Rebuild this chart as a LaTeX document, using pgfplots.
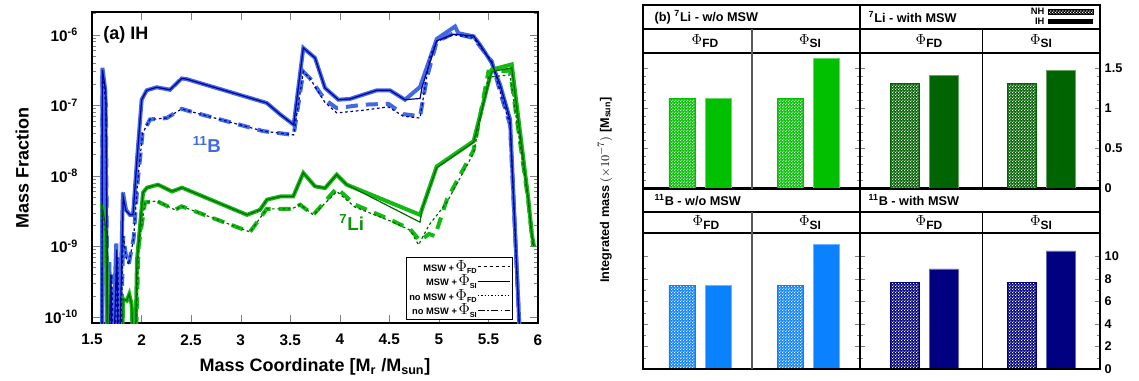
\documentclass[border=0pt]{standalone}
\usepackage{pgfplots}
\pgfplotsset{compat=1.18}
\usepackage{fontspec}
\setmainfont{Liberation Sans}
\usetikzlibrary{patterns}
\definecolor{bl}{RGB}{65,105,225}
\definecolor{nv}{RGB}{0,0,160}
\definecolor{gr}{RGB}{20,185,20}
\definecolor{dg}{RGB}{0,105,0}
\definecolor{liA}{RGB}{0,192,0}
\definecolor{liB}{RGB}{0,100,0}
\definecolor{bA}{RGB}{10,130,255}
\definecolor{bB}{RGB}{0,0,128}
\definecolor{litxt}{RGB}{10,150,10}
\pgfdeclarepatternformonly{fchk}{\pgfpointorigin}{\pgfqpoint{2.4pt}{2.4pt}}{\pgfqpoint{2.4pt}{2.4pt}}{%
 \pgfpathrectangle{\pgfpointorigin}{\pgfqpoint{0.95pt}{0.95pt}}%
 \pgfpathrectangle{\pgfqpoint{1.2pt}{1.2pt}}{\pgfqpoint{0.95pt}{0.95pt}}%
 \pgfusepath{fill}}
\newcommand\lgd[2]{{\fontsize{7}{7}\selectfont\bfseries #1}\,{\fontsize{12.5}{12.5}\selectfont$\Phi$}\raisebox{-0.5ex}{\fontsize{5.5}{5.5}\selectfont\bfseries #2}}
\newcommand\phx[1]{{\fontsize{11}{11}\selectfont$\Phi$}\raisebox{-0.5ex}{\fontsize{9}{9}\selectfont\bfseries #1}}

\pgfplotstableread{
x y
1.600 1e-11
1.605 3.4e-7
1.635 1.6e-7
1.655 1e-11
1.675 6e-10
1.695 1e-11
1.745 1.1e-9
1.765 1e-11
1.812 5.8e-9
1.843 3.3e-9
1.883 2.8e-9
1.914 2.8e-9
1.954 1.7e-8
2.001 1.2e-7
2.052 1.63e-7
2.153 1.8e-7
2.287 1.66e-7
2.405 2.4e-7
2.455 2.35e-7
3.263 1.08e-7
3.400 7.4e-8
3.535 5.3e-8
3.632 6.5e-7
3.750 4.7e-7
3.851 1.76e-7
3.986 1.2e-7
4.103 1.23e-7
4.373 1.63e-7
4.507 1.63e-7
4.658 1.2e-7
4.810 1.82e-7
4.978 8.7e-7
5.163 1.31e-6
5.196 1.05e-6
5.350 9.5e-7
5.415 7.2e-7
5.533 4.0e-7
5.617 1.96e-7
5.718 6.3e-8
5.840 1e-11
}\bsm
\pgfplotstableread{
x y
1.600 1e-11
1.605 3.2e-7
1.640 1.5e-7
1.662 1e-11
1.690 4e-10
1.710 1e-11
1.750 9e-10
1.770 1e-11
1.815 5.0e-9
1.843 3.2e-9
1.883 2.8e-9
1.914 2.8e-9
1.954 1.7e-8
2.001 1.2e-7
2.052 1.63e-7
2.153 1.8e-7
2.287 1.66e-7
2.405 2.4e-7
2.455 2.35e-7
3.263 1.08e-7
3.400 7.4e-8
3.535 5.3e-8
3.632 6.5e-7
3.750 4.7e-7
3.851 1.76e-7
3.986 1.2e-7
4.103 1.23e-7
4.373 1.63e-7
4.507 1.63e-7
4.658 1.2e-7
4.810 1.25e-7
4.830 1.8e-7
4.978 8.2e-7
5.146 1.02e-6
5.350 9.6e-7
5.415 7.2e-7
5.533 4.0e-7
5.617 1.96e-7
5.718 6.3e-8
5.840 1e-11
}\bsn
\pgfplotstableread{
x y
1.600 1e-11
1.605 3.0e-7
1.640 1.0e-7
1.660 1e-11
1.700 4e-10
1.720 1e-11
1.760 7e-10
1.780 1e-11
1.815 1.4e-9
1.845 7e-10
1.870 5.5e-10
1.920 1.3e-9
1.960 8e-9
2.010 4e-8
2.085 6.3e-8
2.254 6.6e-8
2.405 8.9e-8
2.490 8.2e-8
3.229 4.3e-8
3.535 3.8e-8
3.632 3.0e-7
3.700 2.4e-7
3.850 1.2e-7
3.970 9.1e-8
4.235 1.02e-7
4.490 1.05e-7
4.640 7.5e-8
4.810 7.0e-8
4.880 2.5e-7
4.978 8.0e-7
5.146 1.05e-6
5.350 9.0e-7
5.533 4.2e-7
5.634 1.3e-7
5.718 5.3e-8
5.840 1e-11
}\bfm
\pgfplotstableread{
x y
1.600 1e-11
1.605 3.0e-7
1.640 1.0e-7
1.660 1e-11
1.700 4e-10
1.720 1e-11
1.760 7e-10
1.780 1e-11
1.815 1.4e-9
1.845 7e-10
1.870 5.5e-10
1.920 1.3e-9
1.960 8e-9
2.010 4e-8
2.085 6.3e-8
2.254 6.6e-8
2.405 8.9e-8
2.490 8.2e-8
3.229 4.3e-8
3.535 3.8e-8
3.632 3.0e-7
3.700 2.4e-7
3.850 1.1e-7
3.970 7.8e-8
4.235 8.5e-8
4.490 9.5e-8
4.640 7.0e-8
4.810 6.6e-8
4.910 4.9e-7
4.978 8.0e-7
5.146 1.0e-6
5.350 9.0e-7
5.533 4.2e-7
5.634 1.3e-7
5.718 5.3e-8
5.840 1e-11
}\bfn
\pgfplotstableread{
x y
1.600 4e-9
1.640 1.8e-9
1.665 1e-11
1.800 1e-11
1.813 1.8e-10
1.850 1.7e-10
1.876 2.1e-10
1.900 1.5e-10
1.930 1e-11
1.954 6.4e-10
1.984 1.9e-9
2.015 5.8e-9
2.055 6.8e-9
2.166 7.5e-9
2.307 6.0e-9
2.408 6.8e-9
3.064 2.8e-9
3.195 3.3e-9
3.266 4.6e-9
3.400 5.1e-9
3.530 5.1e-9
3.632 1.1e-8
3.750 7.1e-9
3.851 6.7e-9
3.969 1.04e-8
4.070 7.5e-9
4.810 2.8e-9
4.978 1.36e-8
5.350 3.1e-8
5.533 3.2e-7
5.735 3.8e-7
5.903 4.6e-9
5.937 1.5e-9
5.960 1.0e-9
}\gsm
\pgfplotstableread{
x y
1.600 4e-9
1.640 1.8e-9
1.665 1e-11
1.800 1e-11
1.813 1.8e-10
1.850 1.7e-10
1.876 2.1e-10
1.900 1.5e-10
1.930 1e-11
1.954 6.4e-10
1.984 1.9e-9
2.015 5.8e-9
2.055 6.8e-9
2.166 7.5e-9
2.307 6.0e-9
2.408 6.8e-9
3.064 2.8e-9
3.195 3.3e-9
3.266 4.6e-9
3.400 5.1e-9
3.530 5.1e-9
3.632 1.1e-8
3.750 7.1e-9
3.851 6.7e-9
3.969 1.04e-8
4.070 7.5e-9
4.810 2.2e-9
4.830 3.4e-9
4.978 1.3e-8
5.350 3.0e-8
5.533 3.0e-7
5.735 3.4e-7
5.903 4.6e-9
5.937 1.5e-9
5.960 1.0e-9
}\gsn
\pgfplotstableread{
x y
1.600 3.0e-9
1.640 1.5e-9
1.665 1e-11
1.930 1e-11
1.970 1.0e-9
2.035 4.2e-9
2.153 4.4e-9
2.337 3.3e-9
2.405 3.7e-9
3.094 1.6e-9
3.263 3.4e-9
3.397 3.4e-9
3.515 3.4e-9
3.600 3.9e-9
3.733 2.8e-9
3.969 6.7e-9
4.154 3.9e-9
4.507 2.4e-9
4.710 1.75e-9
4.810 1.2e-9
4.900 1.5e-9
4.960 1.4e-9
5.080 4.6e-9
5.350 2.3e-8
5.500 3.0e-7
5.718 3.1e-7
5.900 4.6e-9
5.950 1.0e-9
}\gfm
\pgfplotstableread{
x y
1.600 3.0e-9
1.640 1.5e-9
1.665 1e-11
1.930 1e-11
1.970 1.0e-9
2.035 4.2e-9
2.153 4.4e-9
2.337 3.3e-9
2.405 3.7e-9
3.094 1.6e-9
3.263 3.4e-9
3.397 3.4e-9
3.515 3.4e-9
3.600 3.9e-9
3.733 2.8e-9
3.969 6.0e-9
4.154 3.6e-9
4.507 2.3e-9
4.710 1.7e-9
4.795 1.05e-9
4.900 2.0e-9
5.080 4.2e-9
5.350 2.1e-8
5.500 2.5e-7
5.718 2.7e-7
5.900 4.6e-9
5.950 1.0e-9
}\gfn

\pgfplotsset{barax/.style={scale only axis, anchor=south west, ymin=0, xtick=\empty,
  tick align=inside, axis line style={line width=1.2pt}, major tick length=4pt, minor tick length=2pt,
  ytick pos=both, yticklabels={},
  tick label style={font=\fontsize{9.5}{10}\selectfont\bfseries}}}
\tikzset{nhbar/.style n args={2}{ybar, bar shift=0pt, bar width=#1, fill=#2, draw=#2,
  postaction={pattern=fchk, pattern color=white}}}

\begin{document}
\begin{tikzpicture}
\useasboundingbox (0,0) rectangle (854.25pt,285pt);
% ---------------- left panel ----------------
\begin{axis}[scale only axis, at={(69pt,42.75pt)}, anchor=south west, width=334.5pt, height=233.25pt,
  ymode=log, xmin=1.5, xmax=6, ymin=8.2e-11, ymax=2.1e-6,
  xtick={1.5,2,2.5,3,3.5,4,4.5,5,5.5,6},
  xticklabels={1.5,2,2.5,3,3.5,4,4.5,5,5.5,6},
  ytick={1e-10,1e-9,1e-8,1e-7,1e-6},
  yticklabels={10\textsuperscript{-10},10\textsuperscript{-9},10\textsuperscript{-8},10\textsuperscript{-7},10\textsuperscript{-6}},
  minor ytick={2e-10,3e-10,4e-10,5e-10,6e-10,7e-10,8e-10,9e-10,2e-9,3e-9,4e-9,5e-9,6e-9,7e-9,8e-9,9e-9,2e-8,3e-8,4e-8,5e-8,6e-8,7e-8,8e-8,9e-8,2e-7,3e-7,4e-7,5e-7,6e-7,7e-7,8e-7,9e-7,2e-6},
  tick align=inside, major tick length=6pt, minor tick length=3pt,
  axis line style={line width=1.5pt},
  tick label style={font=\fontsize{11.5}{12}\selectfont\bfseries},
  xticklabel style={yshift=-5pt},
  yticklabel style={xshift=-7pt},
  xlabel={Mass Coordinate [M\textsubscript{r} /M\textsubscript{sun}]},
  ylabel={Mass Fraction},
  label style={font=\fontsize{13.5}{14}\selectfont\bfseries},
  xlabel style={yshift=-3pt},
  ylabel style={yshift=5pt},
  legend plot pos=right, legend cell align=right,
  legend style={at={(rel axis cs:0.944,0.01)}, anchor=south east, draw=black, line width=0.6pt,
    inner sep=1.5pt, row sep=0pt, nodes={inner sep=0.6pt}, font=\fontsize{7}{7}\selectfont},
  legend image code/.code={\draw[#1] (0cm,0cm) -- (0.85cm,0cm);},
]
\addlegendimage{black,line width=0.6pt,dash pattern=on 2.5pt off 2pt}
\addlegendentry{\lgd{MSW +}{FD}}
\addlegendimage{black,line width=0.6pt}
\addlegendentry{\lgd{MSW +}{SI}}
\addlegendimage{black,line width=0.6pt,dash pattern=on 1pt off 1.5pt}
\addlegendentry{\lgd{no MSW +}{FD}}
\addlegendimage{black,line width=0.6pt,dash pattern=on 5pt off 2pt on 1pt off 2pt}
\addlegendentry{\lgd{no MSW +}{SI}}
% thick MSW curves
\addplot[forget plot, bl, line width=3pt] table {\bsm};
\addplot[forget plot, bl, line width=3pt, dash pattern=on 9pt off 6pt] table {\bfm};
\addplot[forget plot, gr, line width=3pt] table {\gsm};
\addplot[forget plot, gr, line width=3pt, dash pattern=on 9pt off 6pt] table {\gfm};
% thin no-MSW curves
\addplot[forget plot, nv, line width=0.9pt] table {\bsn};
\addplot[forget plot, nv, line width=0.9pt, dash pattern=on 2pt off 2pt] table {\bfn};
\addplot[forget plot, dg, line width=0.9pt] table {\gsn};
\addplot[forget plot, dg, line width=0.9pt, dash pattern=on 2pt off 2pt] table {\gfn};
\node[anchor=west, font=\fontsize{13.5}{14}\selectfont\bfseries] at (rel axis cs:0.015,0.925) {(a) IH};
\node[bl, font=\fontsize{14}{14}\selectfont\bfseries] at (axis cs:2.66,2.75e-8) {\textsuperscript{11}B};
\node[litxt, font=\fontsize{14}{14}\selectfont\bfseries] at (axis cs:4.12,2.2e-9) {\textsuperscript{7}Li};
\end{axis}

% ---------------- right panel: bar axes ----------------
% 7Li w/o MSW
\begin{axis}[barax, at={(482.25pt,144pt)}, width=162.75pt, height=101.25pt,
  xmin=-1.08, xmax=4.94, ymax=1.69, ytick={0,0.5,1,1.5}, minor y tick num=4]
\addplot[nhbar={0.72}{liA}] coordinates {(0,1.125) (3,1.125)};
\addplot[ybar, bar shift=0pt, bar width=0.72, fill=liA, draw=liA!60] coordinates {(1,1.125) (4,1.625)};
\end{axis}
% 7Li with MSW
\begin{axis}[barax, at={(645pt,144pt)}, width=180pt, height=101.25pt,
  xmin=-1.14, xmax=5.01, ymax=1.69, ytick={0,0.5,1,1.5}, minor y tick num=4,
  yticklabel pos=right, yticklabels={0,0.5,1,1.5}, ytick pos=both]
\addplot[nhbar={0.74}{liB}] coordinates {(0,1.31) (3,1.31)};
\addplot[ybar, bar shift=0pt, bar width=0.74, fill=liB, draw=liB!60] coordinates {(1,1.41) (4,1.475)};
\end{axis}
% 11B w/o MSW
\begin{axis}[barax, at={(482.25pt,8.25pt)}, width=162.75pt, height=102pt,
  xmin=-1.08, xmax=4.94, ymax=12.1, ytick={0,2,4,6,8,10}, minor y tick num=1]
\addplot[nhbar={0.72}{bA}] coordinates {(0,7.47) (3,7.47)};
\addplot[ybar, bar shift=0pt, bar width=0.72, fill=bA, draw=bA!60] coordinates {(1,7.47) (4,11.1)};
\end{axis}
% 11B with MSW
\begin{axis}[barax, at={(645pt,8.25pt)}, width=180pt, height=102pt,
  xmin=-1.14, xmax=5.01, ymax=12.1, ytick={0,2,4,6,8,10}, minor y tick num=1,
  yticklabel pos=right, yticklabels={0,2,4,6,8,10}, ytick pos=both]
\addplot[nhbar={0.74}{bB}] coordinates {(0,7.73) (3,7.73)};
\addplot[ybar, bar shift=0pt, bar width=0.74, fill=bB, draw=bB!60] coordinates {(1,8.9) (4,10.5)};
\end{axis}

% ---------------- right panel: frames and headers (image pixel coords) ----------------
\begin{scope}[yshift=285pt, x=0.75pt, y=-0.75pt]
\draw[line width=1.5pt] (643,5) rectangle (1100,369);
\draw[line width=1.5pt] (860,5) -- (860,369);
\draw[line width=1.5pt] (643,188.5) -- (1100,188.5);
\draw[line width=0.8pt] (643,29) -- (1100,29);
\draw[line width=0.8pt] (643,53) -- (1100,53);
\draw[line width=0.8pt] (643,212) -- (1100,212);
\draw[line width=0.8pt] (643,233) -- (1100,233);
\draw[gray!70!black, line width=0.8pt] (752,29) -- (752,188.5);
\draw[gray!70!black, line width=0.8pt] (752,212) -- (752,369);
\draw[line width=0.6pt] (982,29) -- (982,188.5);
\draw[line width=0.6pt] (982,212) -- (982,369);
\begin{scope}[font=\fontsize{9.5}{10}\selectfont\bfseries]
\node[anchor=west] at (650,17) {(b) \textsuperscript{7}Li - w/o MSW};
\node[anchor=west] at (864,17) {\textsuperscript{7}Li - with MSW};
\node[anchor=west] at (650,200) {\textsuperscript{11}B - w/o MSW};
\node[anchor=west] at (864,200) {\textsuperscript{11}B - with MSW};
\end{scope}
\node at (705,41) {\phx{FD}};
\node at (810,41) {\phx{SI}};
\node at (929,41) {\phx{FD}};
\node at (1041,41) {\phx{SI}};
\node at (706,222.5) {\phx{FD}};
\node at (810,222.5) {\phx{SI}};
\node at (929,222.5) {\phx{FD}};
\node at (1041,222.5) {\phx{SI}};
% NH / IH legend
\node[anchor=east, font=\fontsize{7}{7}\selectfont\bfseries, inner sep=1pt] at (1046,11.5) {NH};
\node[anchor=east, font=\fontsize{7}{7}\selectfont\bfseries, inner sep=1pt] at (1046,21.5) {IH};
\fill[black] (1048,9) rectangle (1093,14);
\fill[pattern=fchk, pattern color=white] (1048,9) rectangle (1093,14);
\draw[line width=0.4pt] (1048,9) rectangle (1093,14);
\fill[black] (1048,19) rectangle (1093,24);
% y label
\node[rotate=90, font=\fontsize{9.5}{10}\selectfont\bfseries] at (605,190)
  {Integrated mass {\mdseries$(\times10^{-7})$} [M\textsubscript{sun}]};
\end{scope}
\end{tikzpicture}
\end{document}
